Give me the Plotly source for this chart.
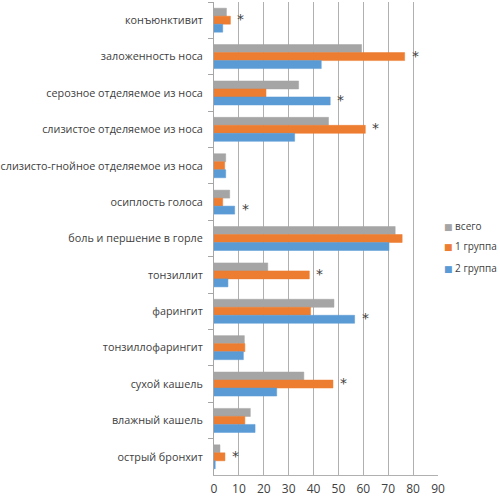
import plotly.graph_objects as go

categories = [
    'конъюнктивит',
    'заложенность носа',
    'серозное отделяемое из носа',
    'слизистое отделяемое из носа',
    'слизисто-гнойное отделяемое из носа',
    'осиплость голоса',
    'боль и першение в горле',
    'тонзиллит',
    'фарингит',
    'тонзиллофарингит',
    'сухой кашель',
    'влажный кашель',
    'острый бронхит',
]
vsego = [5.0, 59.3, 34.0, 46.0, 4.7, 6.3, 72.8, 21.6, 48.2, 12.2, 36.1, 14.6, 2.4]
group1 = [6.6, 76.6, 20.9, 60.8, 4.3, 3.5, 75.6, 38.3, 38.8, 12.4, 47.8, 12.4, 4.4]
group2 = [3.5, 43.1, 46.7, 32.4, 4.7, 8.3, 70.3, 5.6, 56.5, 11.8, 25.2, 16.5, 0.5]
significant = [True, True, True, True, False, True, False, True, True, False, True, False, True]
x_ticks = [0, 10, 20, 30, 40, 50, 60, 70, 80, 90]

series = [
    ('всего', vsego, '#A5A5A5'),
    ('1 группа', group1, '#ED7D31'),
    ('2 группа', group2, '#5B9BD5'),
]

fig = go.Figure()
for name, values, color in series:
    fig.add_trace(go.Bar(
        y=categories, x=values, name=name, orientation='h',
        marker=dict(color=color, line=dict(color=color, width=0.5)),
        showlegend=False,
    ))

annotations = []

# asterisks next to the longest bar of each significant row
for i, cat in enumerate(categories):
    if not significant[i]:
        continue
    vals = [vsego[i], group1[i], group2[i]]
    top = max(vals)
    idx = vals.index(top)
    annotations.append(dict(
        x=top + 4.2, y=cat, text='*', showarrow=False,
        xanchor='center', yanchor='middle',
        yshift=(1 - idx) * 8 + 1,
        font=dict(family='DejaVu Sans', size=14, color='#404040'),
    ))

# legend drawn as text so it sits tight like the original
legend_y = [0.527, 0.484, 0.438]
for (name, values, color), ly in zip(series, legend_y):
    annotations.append(dict(
        xref='paper', yref='paper', x=1.016, y=ly,
        xanchor='left', yanchor='middle', showarrow=False,
        text=f"<span style='color:{color};font-family:DejaVu Sans;font-size:9px'>■</span> {name}",
        font=dict(family='Open Sans', size=10, color='#404040'),
    ))

fig.update_layout(
    width=500, height=499,
    margin=dict(l=214, r=62, t=2, b=24),
    barmode='group', bargap=0.34, bargroupgap=0,
    plot_bgcolor='white', paper_bgcolor='white',
    font=dict(family='Open Sans', size=10.8, color='#404040'),
    showlegend=False,
    annotations=annotations,
)
fig.update_xaxes(
    range=[0, 90], tickvals=x_ticks, showgrid=True, gridcolor='#B0B0B0',
    gridwidth=1, zeroline=False, showline=True, linecolor='#B0B0B0',
    ticks='', ticklabelstandoff=3, automargin=False,
    tickfont=dict(size=12, color='#404040'),
)
fig.update_yaxes(
    autorange='reversed', showline=True, linecolor='#A6A6A6', linewidth=1,
    ticks='outside', tickson='boundaries', ticklen=5, tickcolor='#A6A6A6',
    ticklabelstandoff=8, showgrid=False, automargin=False,
)

# drop the default body margin so the figure starts at the window corner
fig.write_html('out.html', config={'displayModeBar': False},
               post_script="document.body.style.margin='0px';")
